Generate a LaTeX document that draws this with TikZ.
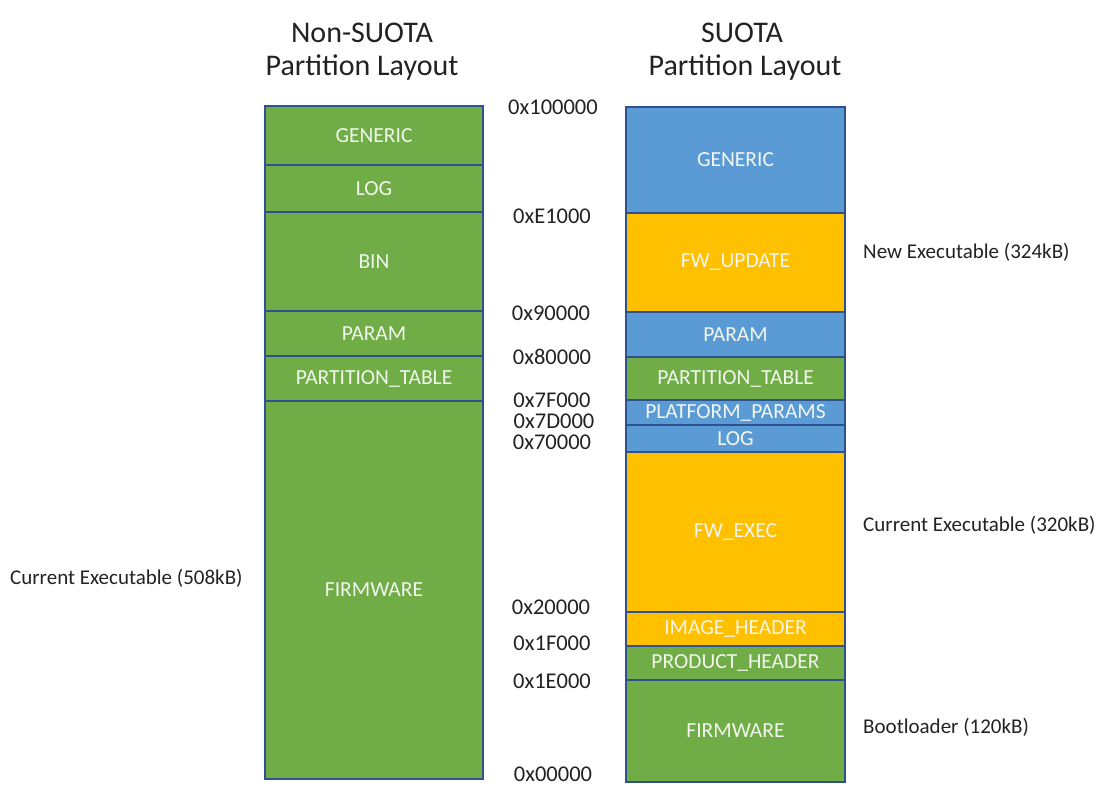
\documentclass[tikz,border=0pt]{standalone}
\usepackage{fontspec}
\setmainfont{Carlito}
\definecolor{pgreen}{HTML}{70AD47}
\definecolor{pblue}{HTML}{5B9BD5}
\definecolor{pgold}{HTML}{FFC000}
\definecolor{pborder}{HTML}{2F528F}
\definecolor{plabel}{HTML}{F2F5EE}
\definecolor{ptext}{HTML}{222222}
\begin{document}
\begin{tikzpicture}[x=1pt,y=-1pt,
  part/.style={draw=pborder, line width=1.6pt, inner sep=0pt, outer sep=0pt},
  partlab/.style={inner sep=0pt, text=plabel, font=\fontsize{21.5}{25}\selectfont},
  hexlab/.style={text=ptext, inner sep=0pt, text height=14.5pt, text depth=0pt,
    font=\fontsize{22.5}{26}\selectfont},
  sidelab/.style={text=ptext, inner sep=0pt, anchor=west, font=\fontsize{21}{25}\selectfont},
  title/.style={text=ptext, inner sep=0pt, align=center, font=\fontsize{30}{35}\selectfont}]
\useasboundingbox (0,0) rectangle (1098,785);
% helper: \partbox{name}{x1}{y1}{x2}{y2}{colour}{text}
\newcommand{\partbox}[7]{%
  \path[part, fill=#6] (#2,#3) rectangle (#4,#5);
  \node[partlab, minimum width={#4-#2}, minimum height={#5-#3}] (#1) at ({(#2+#4)/2},{(#3+#5)/2}) {#7};}
% titles
\node[title] (t1a) at (362,33) {Non-SUOTA};
\node[title] (t1b) at (362,68) {Partition Layout};
\node[title] (t2a) at (742,33) {SUOTA};
\node[title] (t2b) at (745,68) {Partition Layout};
% left column
\partbox{lgen}{265}{106}{483}{165}{pgreen}{GENERIC}
\partbox{llog}{265}{165}{483}{212}{pgreen}{LOG}
\partbox{lbin}{265}{212}{483}{311}{pgreen}{BIN}
\partbox{lpar}{265}{311}{483}{356}{pgreen}{PARAM}
\partbox{lpt}{265}{356}{483}{401}{pgreen}{PARTITION\_TABLE}
\partbox{lfw}{265}{401}{483}{779}{pgreen}{FIRMWARE}
% right column
\partbox{rgen}{626}{107}{845}{213}{pblue}{GENERIC}
\partbox{rupd}{626}{213}{845}{312}{pgold}{FW\_UPDATE}
\partbox{rpar}{626}{312}{845}{357}{pblue}{PARAM}
\partbox{rpt}{626}{357}{845}{400}{pgreen}{PARTITION\_TABLE}
\partbox{rpp}{626}{400}{845}{425}{pblue}{PLATFORM\_PARAMS}
\partbox{rlog}{626}{425}{845}{452}{pblue}{LOG}
\partbox{rexec}{626}{452}{845}{612}{pgold}{FW\_EXEC}
\partbox{rimg}{626}{612}{845}{646}{pgold}{IMAGE\_HEADER}
\partbox{rprod}{626}{646}{845}{680}{pgreen}{PRODUCT\_HEADER}
\partbox{rfw}{626}{680}{845}{782}{pgreen}{FIRMWARE}
% addresses
\node[hexlab] (a1) at (553,107) {0x100000};
\node[hexlab] (a2) at (552,216) {0xE1000};
\node[hexlab] (a3) at (551,313) {0x90000};
\node[hexlab] (a4) at (552,357) {0x80000};
\node[hexlab] (a5) at (552,400) {0x7F000};
\node[hexlab] (a6) at (554,421) {0x7D000};
\node[hexlab] (a7) at (552,442) {0x70000};
\node[hexlab] (a8) at (551,607) {0x20000};
\node[hexlab] (a9) at (552,643) {0x1F000};
\node[hexlab] (a10) at (552,681) {0x1E000};
\node[hexlab] (a11) at (553,774) {0x00000};
% side labels
\node[sidelab] (s1) at (863,252) {New Executable (324kB)};
\node[sidelab] (s2) at (863,525) {Current Executable (320kB)};
\node[sidelab] (s3) at (863,727) {Bootloader (120kB)};
\node[sidelab] (s4) at (10,578) {Current Executable (508kB)};
\end{tikzpicture}
\end{document}
